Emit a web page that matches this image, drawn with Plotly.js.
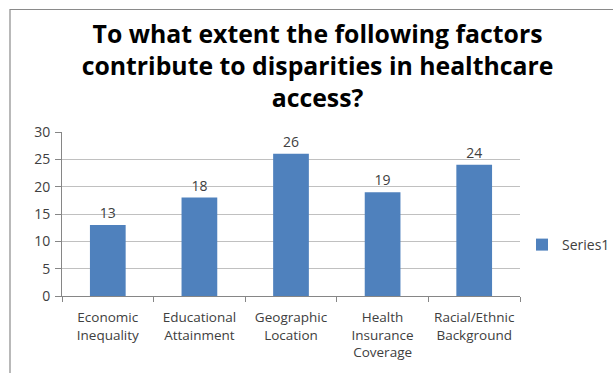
<!DOCTYPE html>
<html>
<head>
<meta charset="utf-8">
<script src="https://cdn.plot.ly/plotly-3.0.1.min.js"></script>
<style>
html,body{margin:0;padding:0;background:#fff;}
#chart{width:613px;height:373px;}
</style>
</head>
<body>
<div id="chart"></div>
<script>
const categories = ["Economic Inequality", "Educational Attainment", "Geographic Location", "Health Insurance Coverage", "Racial/Ethnic Background"];
const tickLabels = ["Economic<br>Inequality", "Educational<br>Attainment", "Geographic<br>Location", "Health<br>Insurance<br>Coverage", "Racial/Ethnic<br>Background"];
const series1 = [13, 18, 26, 19, 24];
const yTicks = [0, 5, 10, 15, 20, 25, 30];

const W = 613, H = 373;
const L = 62, R = 520, T = 132, B = 296;
const pw = R - L, ph = B - T;
const px = x => (x - L) / pw;
const py = y => (B - y) / ph;
const FONT = '"Open Sans", sans-serif';

const trace = {
  type: 'bar',
  name: 'Series1',
  x: categories,
  y: series1,
  marker: {color: '#4F81BD'},
  text: series1.map(String),
  textposition: 'outside',
  textfont: {family: FONT, size: 14, color: '#404040'},
  cliponaxis: false,
  hoverinfo: 'none'
};

const layout = {
  width: W, height: H,
  margin: {l: L, r: W - R, t: T, b: H - B, pad: 0, autoexpand: false},
  paper_bgcolor: '#ffffff',
  plot_bgcolor: '#ffffff',
  font: {family: FONT, size: 14, color: '#404040'},
  title: {
    text: '<b>To what extent the following factors<br>contribute to disparities in healthcare<br>access?</b>',
    font: {family: FONT, size: 24.8, color: '#000000'},
    x: 0.518, xref: 'container', xanchor: 'center',
    y: 1 - 43 / H, yref: 'container', yanchor: 'top'
  },
  bargap: 0.61,
  showlegend: true,
  legend: {
    x: px(522), y: py(245), xanchor: 'left', yanchor: 'middle',
    font: {family: FONT, size: 14, color: '#404040'},
    itemwidth: 30
  },
  xaxis: {
    type: 'category',
    tickvals: categories,
    ticktext: tickLabels,
    tickangle: 0,
    showline: true, linecolor: '#868686', linewidth: 1,
    ticks: 'outside', ticklen: 5, tickcolor: '#868686',
    tickson: 'boundaries',
    ticklabelstandoff: 9,
    showgrid: false,
    tickfont: {family: FONT, size: 13.5, color: '#404040'},
    automargin: false,
    fixedrange: true
  },
  yaxis: {
    range: [0, 30],
    tickvals: yTicks,
    showline: true, linecolor: '#868686', linewidth: 1,
    ticks: 'outside', ticklen: 6, tickcolor: '#868686',
    ticklabelstandoff: 2,
    showgrid: true, gridcolor: '#c0c0c0', gridwidth: 1,
    zeroline: false,
    tickfont: {family: FONT, size: 14, color: '#404040'},
    automargin: false,
    fixedrange: true
  },
  shapes: [{
    type: 'rect', xref: 'paper', yref: 'paper',
    x0: px(10), x1: px(700), y0: py(500), y1: py(9.5),
    line: {color: '#8a8a8a', width: 1.2}, fillcolor: 'rgba(0,0,0,0)', layer: 'below'
  }]
};

Plotly.newPlot('chart', [trace], layout, {displayModeBar: false, staticPlot: true});
</script>
</body>
</html>
